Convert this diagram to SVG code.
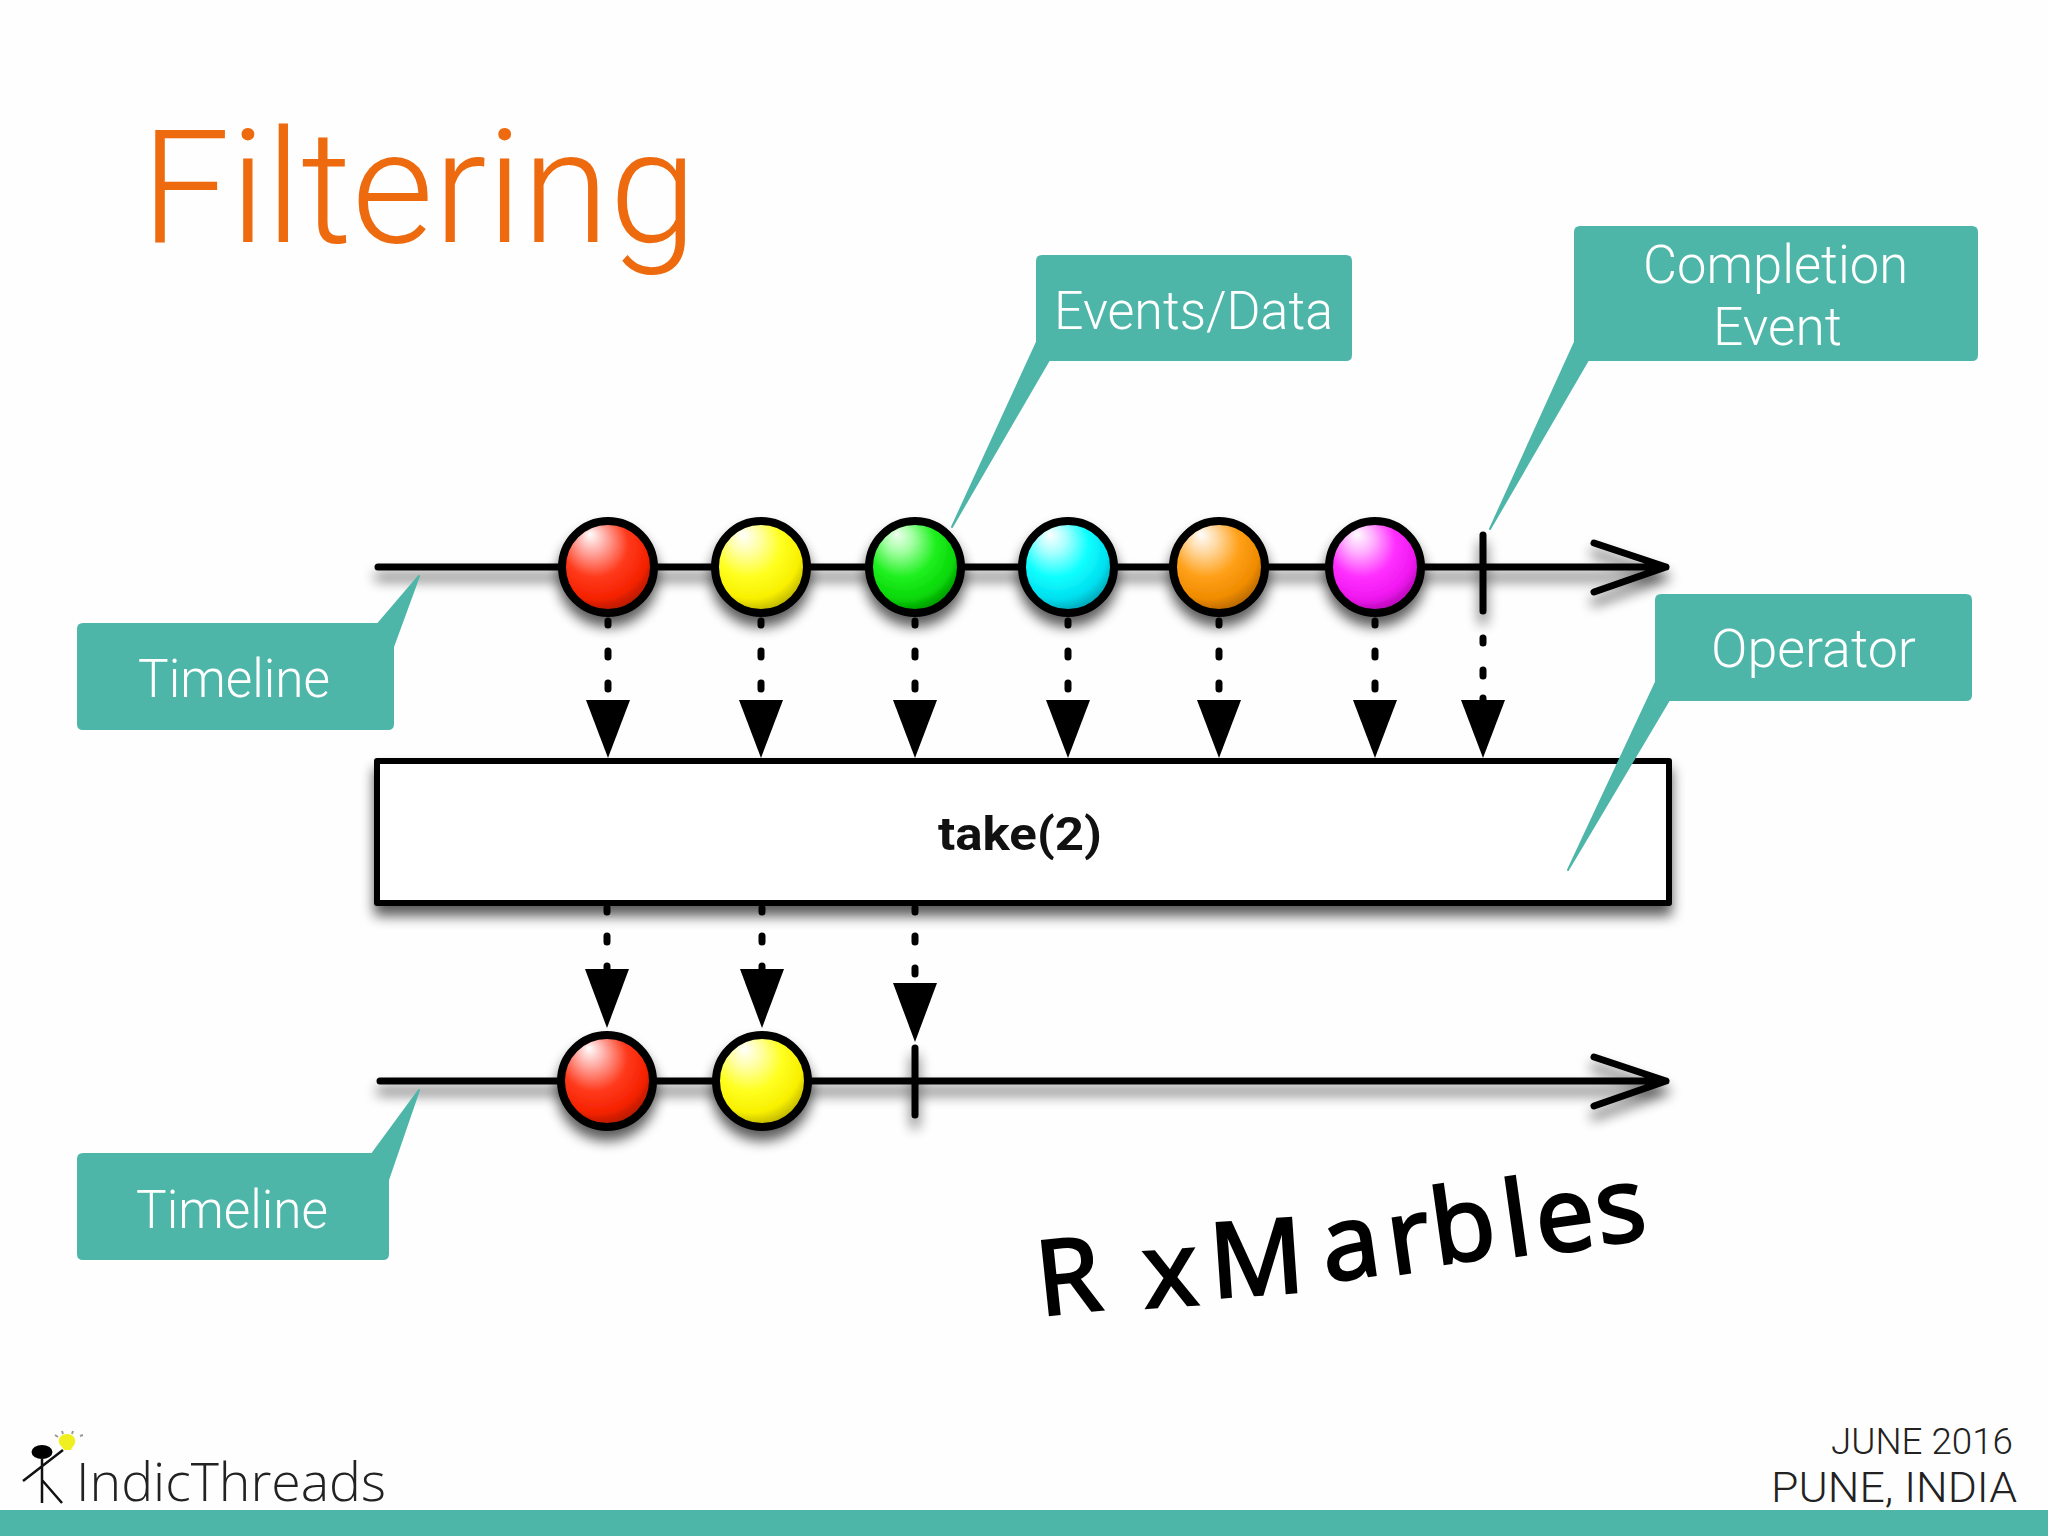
<svg xmlns="http://www.w3.org/2000/svg" width="2048" height="1536" viewBox="0 0 2048 1536">
<defs>
<filter id="sh" x="0" y="0" width="2048" height="1536" filterUnits="userSpaceOnUse" primitiveUnits="userSpaceOnUse">
<feGaussianBlur in="SourceAlpha" stdDeviation="6.500"/><feOffset dy="10"/><feComponentTransfer><feFuncA type="linear" slope="0.65"/></feComponentTransfer><feMerge><feMergeNode/><feMergeNode in="SourceGraphic"/></feMerge>
</filter>
<radialGradient id="gr" cx=".42" cy=".36" r=".72" fx=".3" fy=".14"><stop offset="0" stop-color="#fff"/><stop offset=".22" stop-color="#ffa8a0"/><stop offset=".5" stop-color="#ff3a1c"/><stop offset=".75" stop-color="#f52200"/><stop offset="1" stop-color="#8a1400"/></radialGradient>
<radialGradient id="gy" cx=".42" cy=".36" r=".72" fx=".3" fy=".14"><stop offset="0" stop-color="#fff"/><stop offset=".22" stop-color="#ffffa8"/><stop offset=".5" stop-color="#ffff20"/><stop offset=".75" stop-color="#f8f000"/><stop offset="1" stop-color="#9a9000"/></radialGradient>
<radialGradient id="gg" cx=".42" cy=".36" r=".72" fx=".3" fy=".14"><stop offset="0" stop-color="#f0fff0"/><stop offset=".22" stop-color="#a0ffa0"/><stop offset=".5" stop-color="#20f020"/><stop offset=".75" stop-color="#08d808"/><stop offset="1" stop-color="#007000"/></radialGradient>
<radialGradient id="gc" cx=".42" cy=".36" r=".72" fx=".3" fy=".14"><stop offset="0" stop-color="#fff"/><stop offset=".22" stop-color="#a8ffff"/><stop offset=".5" stop-color="#10ffff"/><stop offset=".75" stop-color="#00e0f0"/><stop offset="1" stop-color="#008090"/></radialGradient>
<radialGradient id="go" cx=".42" cy=".36" r=".72" fx=".3" fy=".14"><stop offset="0" stop-color="#fff"/><stop offset=".22" stop-color="#ffd8a0"/><stop offset=".5" stop-color="#ffa018"/><stop offset=".75" stop-color="#f08c00"/><stop offset="1" stop-color="#8f5000"/></radialGradient>
<radialGradient id="gm" cx=".42" cy=".36" r=".72" fx=".3" fy=".14"><stop offset="0" stop-color="#fff"/><stop offset=".22" stop-color="#ffb0ff"/><stop offset=".5" stop-color="#ff30ff"/><stop offset=".75" stop-color="#f018f0"/><stop offset="1" stop-color="#900090"/></radialGradient>
</defs>
<style>
.ln{fill:none;stroke:#000;stroke-width:7;stroke-linecap:round;stroke-linejoin:round}
.dash{fill:none;stroke:#000;stroke-width:7;stroke-linecap:round}
.head{fill:#000}
.ball{stroke:#000;stroke-width:8}
.call{fill:#4eb6a9;stroke:#4eb6a9;stroke-width:2;stroke-linejoin:round}
.lab{font-family:Roboto,"Liberation Sans",sans-serif;font-weight:300;font-size:54px;fill:#fff}
</style>
<rect width="2048" height="1536" fill="#fefefe"/>
<text id="title" x="141" y="242" font-family="Roboto,'Liberation Sans',sans-serif" font-weight="300" font-size="157" fill="#ed6a0e" textLength="556" lengthAdjust="spacingAndGlyphs">Filtering</text>

<g id="connectors">
<g filter="url(#sh)">
<path class="ln" d="M378 567H1666M1594 543L1666 567L1594 592"/>
<path class="ln" d="M1483 535V611"/>
<path class="ln" d="M380 1081H1666M1594 1057L1666 1081L1594 1106"/>
<path class="ln" d="M915 1048V1115"/>
</g>
<g>
<path class="dash" d="M608 621V625M608 651V657M608 683V689"/>
<path class="head" d="M586 700H630L608 758Z"/>
<path class="dash" d="M761 621V625M761 651V657M761 683V689"/>
<path class="head" d="M739 700H783L761 758Z"/>
<path class="dash" d="M915 621V625M915 651V657M915 683V689"/>
<path class="head" d="M893 700H937L915 758Z"/>
<path class="dash" d="M1068 621V625M1068 651V657M1068 683V689"/>
<path class="head" d="M1046 700H1090L1068 758Z"/>
<path class="dash" d="M1219 621V625M1219 651V657M1219 683V689"/>
<path class="head" d="M1197 700H1241L1219 758Z"/>
<path class="dash" d="M1375 621V625M1375 651V657M1375 683V689"/>
<path class="head" d="M1353 700H1397L1375 758Z"/>
<path class="dash" d="M1483 638V643M1483 670V676M1483 698V702"/>
<path class="head" d="M1461 700H1505L1483 758Z"/>
<path class="dash" d="M607 908V912M607 936V942M607 966V972"/>
<path class="head" d="M585 969H629L607 1028Z"/>
<path class="dash" d="M762 908V912M762 936V942M762 966V972"/>
<path class="head" d="M740 969H784L762 1028Z"/>
<path class="dash" d="M915 908V912M915 936V942M915 968V974"/>
<path class="head" d="M893 983H937L915 1042Z"/>
</g>
</g>

<g id="operator" filter="url(#sh)">
<rect x="377" y="761" width="1292" height="142" fill="#fff" stroke="#000" stroke-width="6" stroke-linejoin="round"/>
</g>
<text id="operator-label" x="1020" y="850" text-anchor="middle" font-family="Roboto,'Liberation Sans',Arial,sans-serif" font-weight="700" font-size="47" fill="#111" textLength="164" lengthAdjust="spacingAndGlyphs">take(2)</text>

<g id="marbles-top" filter="url(#sh)">
<circle id="m1" class="ball" cx="608" cy="567" r="46" fill="url(#gr)"/>
<circle id="m2" class="ball" cx="761" cy="567" r="46" fill="url(#gy)"/>
<circle id="m3" class="ball" cx="915" cy="567" r="46" fill="url(#gg)"/>
<circle id="m4" class="ball" cx="1068" cy="567" r="46" fill="url(#gc)"/>
<circle id="m5" class="ball" cx="1219" cy="567" r="46" fill="url(#go)"/>
<circle id="m6" class="ball" cx="1375" cy="567" r="46" fill="url(#gm)"/>
</g>
<g id="marbles-bottom" filter="url(#sh)">
<circle id="m7" class="ball" cx="607" cy="1081" r="46" fill="url(#gr)"/>
<circle id="m8" class="ball" cx="762" cy="1081" r="46" fill="url(#gy)"/>
</g>

<g id="callout-events">
<path class="call" d="M1042 256H1346Q1351 256 1351 261V355Q1351 360 1346 360H1049L952 527L1037 342V261Q1037 256 1042 256Z"/>
<text class="lab" x="1054" y="329" textLength="279" lengthAdjust="spacingAndGlyphs">Events/Data</text>
</g>
<g id="callout-completion">
<path class="call" d="M1580 227H1972Q1977 227 1977 232V355Q1977 360 1972 360H1588L1490 529L1575 342V232Q1575 227 1580 227Z"/>
<text class="lab" x="1643" y="283" textLength="265" lengthAdjust="spacingAndGlyphs">Completion</text>
<text class="lab" x="1713" y="345" textLength="129" lengthAdjust="spacingAndGlyphs">Event</text>
</g>
<g id="callout-operator">
<path class="call" d="M1661 595H1966Q1971 595 1971 600V695Q1971 700 1966 700H1669L1568 870L1656 682V600Q1656 595 1661 595Z"/>
<text class="lab" x="1711" y="667" textLength="205" lengthAdjust="spacingAndGlyphs">Operator</text>
</g>
<g id="callout-timeline1">
<path class="call" d="M83 624H378L419 576L393 647V724Q393 729 388 729H83Q78 729 78 724V629Q78 624 83 624Z"/>
<text class="lab" x="138" y="697" textLength="192" lengthAdjust="spacingAndGlyphs">Timeline</text>
</g>
<g id="callout-timeline2">
<path class="call" d="M83 1154H372L419 1090L388 1180V1254Q388 1259 383 1259H83Q78 1259 78 1254V1159Q78 1154 83 1154Z"/>
<text class="lab" x="136" y="1228" textLength="192" lengthAdjust="spacingAndGlyphs">Timeline</text>
</g>

<text id="rxmarbles" font-family="'Noto Sans',sans-serif" font-size="104" fill="#000" stroke="#000" stroke-width="2.500" x="1040 1145 1212 1326 1392 1436 1508 1540 1600" y="1316 1308 1298 1282 1275 1265 1257 1255 1245" rotate="-6 -4 -4 -8 -8 -8 -8 -8 -8">RxMarbles</text>

<g id="logo">
<ellipse cx="42" cy="1452" rx="10.500" ry="7" fill="#000"/>
<path d="M42 1458V1503M42 1480L62 1503M23 1481L63 1450" fill="none" stroke="#111" stroke-width="2.500"/>
<path d="M67 1434c6 0 9 4 8 9c-1 3-3 4-4 7h-7c-1-3-4-4-5-7c-1-5 2-9 8-9Z" fill="#f0f020"/>
<path d="M55 1435l3 2M62 1431l1 3M73 1431l-1 3M80 1436l3-1" stroke="#999" stroke-width="2" fill="none"/>
<text x="76" y="1501" font-family="'Open Sans','Liberation Sans',sans-serif" font-weight="300" font-size="53" fill="#222" textLength="310" lengthAdjust="spacingAndGlyphs">IndicThreads</text>
</g>
<g id="event-info" font-family="Roboto,'Liberation Sans',sans-serif" font-weight="300" fill="#222">
<text x="1831" y="1454" font-size="37" textLength="182" lengthAdjust="spacingAndGlyphs">JUNE 2016</text>
<text x="1771" y="1502" font-size="42" textLength="246" lengthAdjust="spacingAndGlyphs">PUNE, INDIA</text>
</g>
<rect id="footer-bar" y="1510" width="2048" height="26" fill="#4eb6a9"/>
</svg>
